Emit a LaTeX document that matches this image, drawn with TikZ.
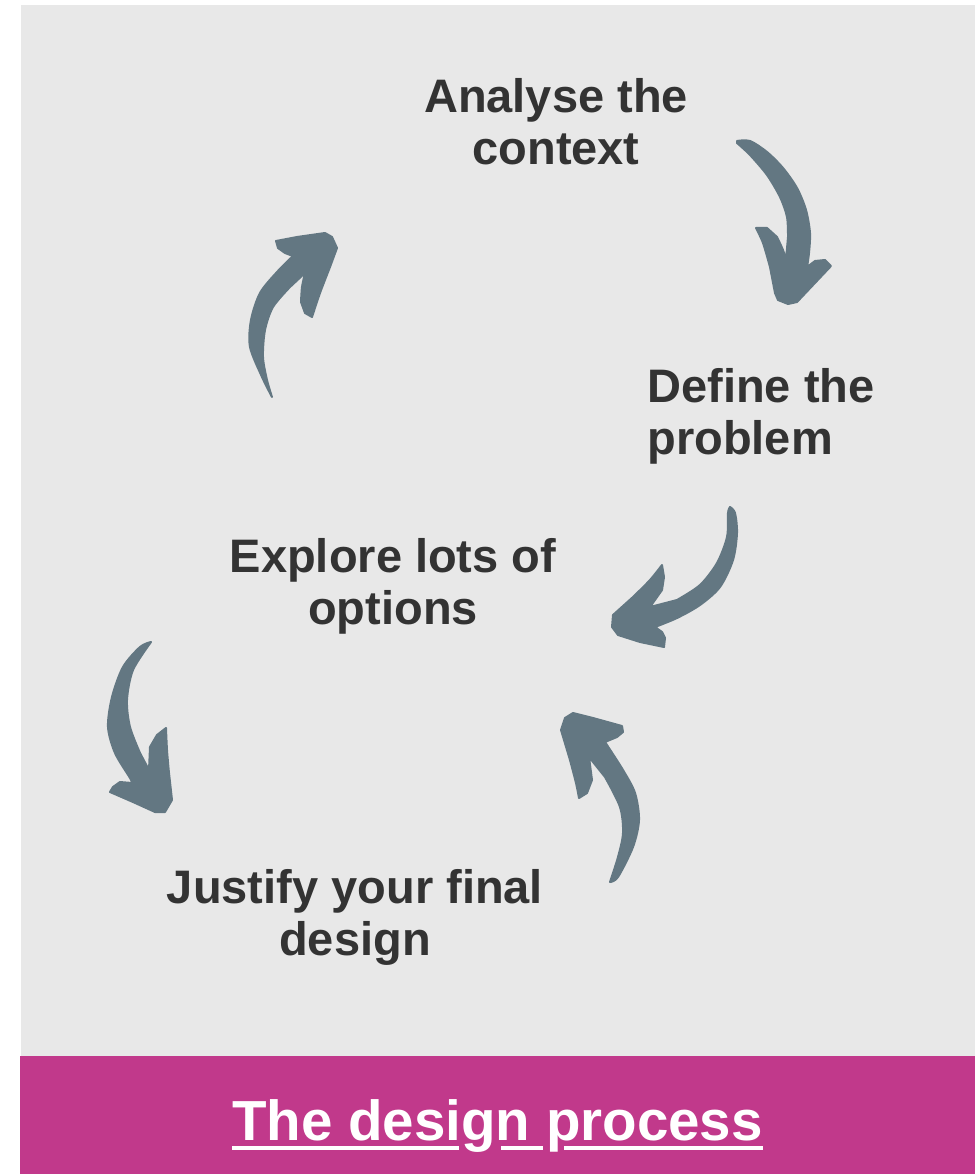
\documentclass[tikz,border=0pt]{standalone}
\usepackage{fontspec}
\setmainfont{Liberation Sans}
\usetikzlibrary{positioning}
\definecolor{panelgrey}{HTML}{E8E8E8}
\definecolor{barpink}{HTML}{C1398B}
\definecolor{arrowslate}{HTML}{637782}
\definecolor{textgrey}{HTML}{333333}

\begin{document}
\begin{tikzpicture}[x=1pt,y=-1pt,
  stage/.style={font=\fontsize{47}{52}\selectfont\bfseries, text=textgrey,
    align=center, inner sep=0pt, anchor=base},
  heading/.style={font=\fontsize{56.5}{60}\selectfont\bfseries, text=white,
    inner sep=0pt, anchor=base},
  brush/.style={fill=arrowslate, draw=arrowslate, line width=2, line join=round}]
\useasboundingbox (0,0) rectangle (975,1174);
\fill [white] (0,0) rectangle (975,1174);
\fill [panelgrey] (21,5) rectangle (975,1056);
\fill [barpink] (20,1056) rectangle (975,1174);

\node [stage] (analyse) at (556,165) {Analyse the\\context};
\node [stage, align=left] (define) at (761,454) {Define the\\problem};
\node [stage] (explore) at (393,624) {Explore lots of\\options};
\node [stage] (justify) at (355,955) {Justify your final\\design};

% analyse -> define
\filldraw [brush] plot [smooth] coordinates {(737,141) (750,141) (767,152) (783,168) (797,188) (806,210) (810,233) (809,253) (807,267)}
  -- (815,261) -- (825,260) -- (831,266) -- (797,302) -- (788,304) -- (778,300) -- (775,293)
  -- plot [smooth] coordinates {(770,267) (763,243) (756,228)}
  -- (767,228) -- plot [smooth] coordinates {(777,237) (783,250) (786,260)}
  -- plot [smooth] coordinates {(788,237) (787,217) (780,197) (767,175) (750,155) (737,143)} -- cycle;
% define -> explore
\filldraw [brush] plot [smooth] coordinates {(730,507) (735,513) (737,533) (733,560) (720,587) (700,605) (677,618) (655,627)}
  -- (662,632) -- (665,638) -- (664,647) -- (640,642) -- (618,635) -- (612,627) -- (613,615)
  -- plot [smooth] coordinates {(633,597) (650,580) (662,565)}
  -- (664,577) -- plot [smooth] coordinates {(662,590) (650,607)}
  -- plot [smooth] coordinates {(677,600) (700,585) (717,563) (727,537) (728,513) (730,507)} -- cycle;
% explore -> justify
\filldraw [brush] plot [smooth] coordinates {(151,642) (140,647) (123,667) (112,697) (108,727) (115,753) (130,778) (132,783)}
  -- (120,782) -- (113,787) -- (110,792) -- (133,802) -- (155,812) -- (165,812) -- (172,800)
  -- plot [smooth] coordinates {(169,773) (167,750) (166,728)}
  -- (157,735) -- plot [smooth] coordinates {(150,747) (149,770)}
  -- plot [smooth] coordinates {(140,753) (130,727) (127,700) (133,670) (151,642)} -- cycle;
% justify -> explore
\filldraw [brush] plot [smooth] coordinates {(610,882) (618,877) (633,847) (639,820) (635,793) (623,770) (605,742)}
  -- (617,737) -- (623,732) -- (622,726) -- (593,718) -- (573,713) -- (565,718) -- (561,730)
  -- plot [smooth] coordinates {(570,760) (576,783) (579,798)}
  -- (587,793) -- plot [smooth] coordinates {(592,780) (589,757)}
  -- plot [smooth] coordinates {(605,777) (620,807) (623,833) (618,857) (610,882)} -- cycle;
% back up to analyse
\filldraw [brush] plot [smooth] coordinates {(272,397) (262,377) (250,347) (251,320) (260,293) (277,272) (293,256)}
  -- (285,253) -- (278,248) -- (276,241) -- (297,237) -- (325,233) -- (332,237) -- (337,248)
  -- plot [smooth] coordinates {(330,267) (320,293) (312,317)}
  -- (305,313) -- plot [smooth] coordinates {(301,302) (302,287) (305,273)}
  -- plot [smooth] coordinates {(290,287) (273,307) (265,330) (263,357) (267,380) (272,397)} -- cycle;

\node [heading] (title) at (497.5,1140) {The design process};
\draw [white, line width=3.6] (232,1148) -- (459,1148);
\draw [white, line width=3.6] (501,1148) -- (543,1148);
\draw [white, line width=3.6] (564,1148) -- (763,1148);
\end{tikzpicture}
\end{document}
